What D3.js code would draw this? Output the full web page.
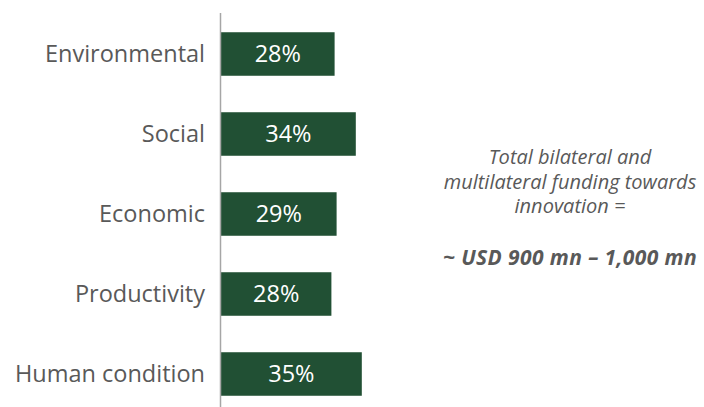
<!DOCTYPE html>
<html>
<head>
<meta charset="utf-8">
<script src="https://cdn.jsdelivr.net/npm/d3@7"></script>
<style>
  body { margin: 0; background: #fff; }
  text { font-family: "Open Sans", "Noto Sans", sans-serif; }
</style>
</head>
<body>
<svg id="chart" width="704" height="407"></svg>
<script>
const categories = ["Environmental", "Social", "Economic", "Productivity", "Human condition"];
// bar lengths (labels are the rounded shares)
const shares = [28.4, 33.7, 28.9, 27.6, 35.2];
const shareLabels = ["28%", "34%", "29%", "28%", "35%"];
const noteLines = ["Total bilateral and", "multilateral funding towards", "innovation ="];
const noteTotal = "~ USD 900 mn \u2013 1,000 mn";

const svg = d3.select("#chart");
const x0 = 221;

const x = d3.scaleLinear().domain([0, 10]).range([x0, x0 + 40]);
const y = d3.scaleBand().domain(categories).range([14, 414])
    .paddingInner(0.456).paddingOuter(0.228);

const rows = svg.selectAll(".row")
    .data(categories)
    .enter().append("g")
    .attr("class", "row");

rows.append("rect")
    .attr("x", x(0))
    .attr("y", d => y(d))
    .attr("width", (d, i) => x(shares[i]) - x(0))
    .attr("height", y.bandwidth())
    .attr("fill", "#215034");

rows.append("text")
    .attr("x", (d, i) => (x(0) + x(shares[i])) / 2)
    .attr("y", d => y(d) + y.bandwidth() / 2)
    .attr("dy", "0.36em")
    .attr("text-anchor", "middle")
    .attr("fill", "#ffffff")
    .style("font-size", "23.5px")
    .text((d, i) => shareLabels[i]);

rows.append("text")
    .attr("x", 205)
    .attr("y", d => y(d) + y.bandwidth() / 2)
    .attr("dy", "0.36em")
    .attr("text-anchor", "end")
    .attr("fill", "#595959")
    .style("font-size", "23.5px")
    .text(d => d);

svg.append("line")
    .attr("x1", x0 - 0.5).attr("x2", x0 - 0.5)
    .attr("y1", 13).attr("y2", 407)
    .attr("stroke", "#a6a6a6")
    .attr("stroke-width", 1.5);

const note = svg.append("g").attr("transform", "translate(570,0)");
note.selectAll(".line")
    .data(noteLines)
    .enter().append("text")
    .attr("x", 0)
    .attr("y", (d, i) => 164 + i * 24.5)
    .attr("text-anchor", "middle")
    .attr("fill", "#595959")
    .style("font-size", "20px")
    .style("font-style", "italic")
    .text(d => d);

note.append("text")
    .attr("x", 0)
    .attr("y", 265)
    .attr("text-anchor", "middle")
    .attr("fill", "#595959")
    .style("font-size", "21px")
    .style("letter-spacing", "0.4px")
    .style("font-style", "italic")
    .style("font-weight", "bold")
    .text(noteTotal);
</script>
</body>
</html>
